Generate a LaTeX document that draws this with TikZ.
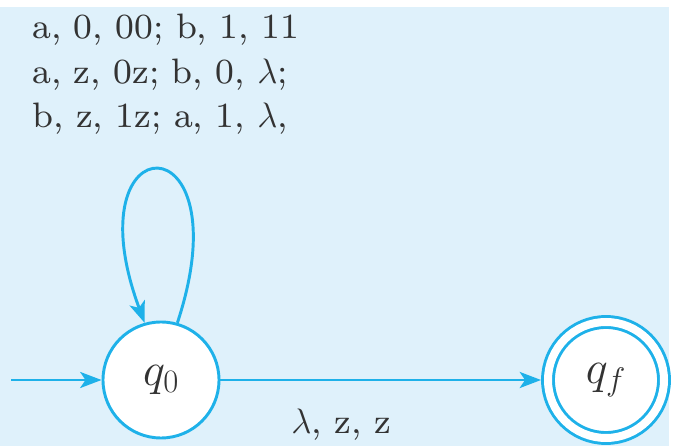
\RequirePackage{fix-cm}
\documentclass[tikz,border=0pt]{standalone}
\usepackage{fontspec}
\newfontfamily\lblfont{lmroman8-regular.otf}
\usetikzlibrary{arrows.meta}
\definecolor{pdacyan}{HTML}{1EB1E9}
\definecolor{pdabg}{HTML}{DFF1FB}
\definecolor{pdatext}{HTML}{333333}
\tikzset{
  state/.style={circle, draw=pdacyan, fill=white, line width=2.2pt,
    minimum size=87pt, inner sep=0pt, text=pdatext,
    font=\fontsize{35}{37}\selectfont},
  final/.style={state, double=white, double distance=6pt, outer sep=5.2pt},
  trans/.style={draw=pdacyan, line width=2.2pt,
    -{Stealth[length=16pt,width=12pt,inset=4pt]}},
  lbl/.style={font=\lblfont\fontsize{26.5}{33}\selectfont, inner sep=0pt,
    text=pdatext}
}
\begin{document}
\begin{tikzpicture}[x=0.75pt, y=0.75pt]
        \useasboundingbox (0,0) rectangle (675,446);
        \fill[pdabg] (0,0) rectangle (669,439);
        % states
        \node[state] (q0) at (161,66) {$q_0$};
        \node[final] (qf) at (606,66) {$q_f$};
        \coordinate (start) at (11,66);
        % labels
        \node[lbl, anchor=base west] (l1) at (32,407) {a, 0, 00; b, 1, 11};
        \node[lbl, anchor=base west] (l2) at (32,362.5) {a, z, 0z; b, 0, $\lambda$;};
        \node[lbl, anchor=base west] (l3) at (32,318) {b, z, 1z; a, 1, $\lambda$,};
        % transitions
        \draw[trans] (start) -- (q0);
        \draw[trans] (q0) -- node[lbl, pos=0.376, anchor=base, yshift=-40pt] (lz) {$\lambda$, z, z} (qf);
        \draw[trans] (q0.74) .. controls +(68,206) and +(-75,202) .. (q0.106);
    \end{tikzpicture}
\end{document}
